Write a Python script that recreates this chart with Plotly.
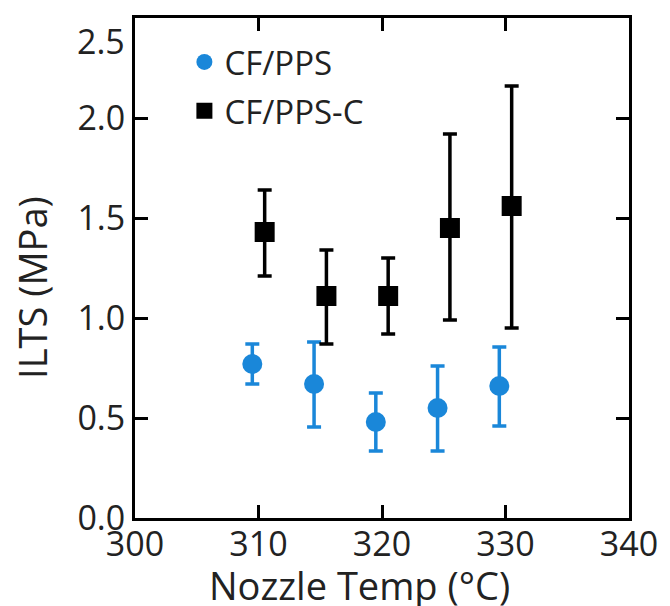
import plotly.graph_objects as go

# Data
temp_pps = [309.5, 314.5, 319.5, 324.5, 329.5]
ilts_pps = [0.77, 0.67, 0.48, 0.55, 0.66]
err_pps_up = [0.10, 0.21, 0.145, 0.21, 0.195]
err_pps_dn = [0.10, 0.215, 0.145, 0.215, 0.20]

temp_ppsc = [310.5, 315.5, 320.5, 325.5, 330.5]
ilts_ppsc = [1.43, 1.11, 1.11, 1.45, 1.56]
err_ppsc_up = [0.21, 0.23, 0.19, 0.47, 0.60]
err_ppsc_dn = [0.22, 0.24, 0.19, 0.46, 0.61]

x_ticks = [300, 310, 320, 330, 340]
y_ticks = [0.0, 0.5, 1.0, 1.5, 2.0]
y_tick_text = ["0.0", "0.5", "1.0", "1.5", "2.0"]

blue = "#1a87d9"
font_family = "Open Sans, Noto Sans, sans-serif"
txt = "#222"

fig = go.Figure()
fig.add_trace(go.Scatter(
    x=temp_pps, y=ilts_pps, mode="markers", name="CF/PPS", legendgroup="a",
    marker=dict(symbol="circle", size=20, color=blue),
    error_y=dict(type="data", symmetric=False, array=err_pps_up, arrayminus=err_pps_dn,
                 color=blue, thickness=3.5, width=7),
))
fig.add_trace(go.Scatter(
    x=temp_ppsc, y=ilts_ppsc, mode="markers", name="CF/PPS-C", legendgroup="b",
    marker=dict(symbol="square", size=20, color="black"),
    error_y=dict(type="data", symmetric=False, array=err_ppsc_up, arrayminus=err_ppsc_dn,
                 color="black", thickness=3.5, width=7),
))

axis_common = dict(
    showline=True, linecolor="black", linewidth=3, mirror="ticks",
    ticks="inside", ticklen=13, tickwidth=3, tickcolor="black",
    showgrid=False, zeroline=False,
    tickfont=dict(family=font_family, size=34, color=txt),
)

fig.update_xaxes(range=[300, 340], tickvals=x_ticks, ticklabelstandoff=-6, **axis_common)
fig.update_yaxes(range=[0, 2.5], tickvals=y_ticks, ticktext=y_tick_text, **axis_common)

# top y label (drawn slightly below the frame top, as in the reference)
fig.add_annotation(x=0, xref="paper", xanchor="right", xshift=-8,
                   y=2.385, yref="y", text="2.5", showarrow=False,
                   font=dict(family=font_family, size=34, color=txt))
# axis titles
fig.add_annotation(x=-0.2087, xref="paper", y=0.462, yref="paper",
                   text="ILTS (MPa)", textangle=-90, showarrow=False,
                   xanchor="center", yanchor="middle",
                   font=dict(family=font_family, size=38, color=txt))
fig.add_annotation(x=0.455, xref="paper", y=-0.134, yref="paper",
                   text="Nozzle Temp (°C)", showarrow=False,
                   xanchor="center", yanchor="middle",
                   font=dict(family=font_family, size=38, color=txt))

fig.update_layout(
    width=670, height=606,
    margin=dict(l=135, r=32, t=18, b=88),
    paper_bgcolor="white", plot_bgcolor="white",
    showlegend=True,
    legend=dict(x=0.1, y=0.968, xanchor="left", yanchor="top",
                bgcolor="rgba(0,0,0,0)", borderwidth=0,
                font=dict(family=font_family, size=33, color=txt),
                itemsizing="trace", tracegroupgap=3),
)

fig.write_html("out.html")
